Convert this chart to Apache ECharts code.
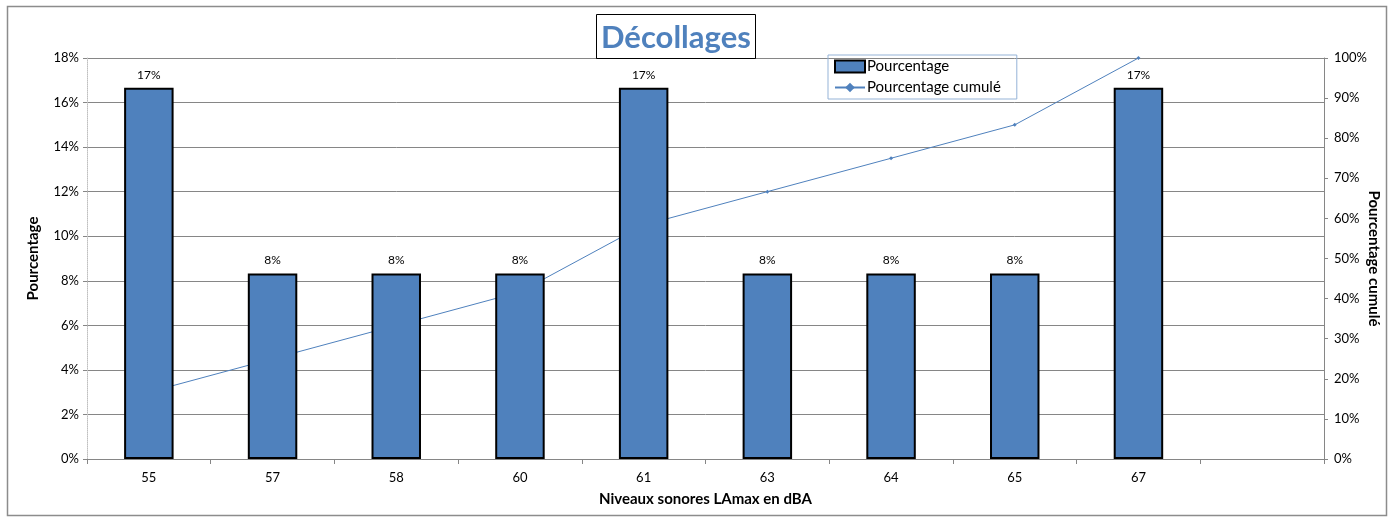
<!DOCTYPE html>
<html><head><meta charset="utf-8">
<script src="https://cdn.jsdelivr.net/npm/echarts@6/dist/echarts.min.js"></script>
<style>html,body{margin:0;padding:0;background:#fff}#c{width:1389px;height:517px}</style>
</head><body><div id="c"></div>
<script>
const categories = ['55','57','58','60','61','63','64','65','67',''];
const pourcentage = [16.67, 8.33, 8.33, 8.33, 16.67, 8.33, 8.33, 8.33, 16.67];
const cumule = [16.67, 25.0, 33.33, 41.67, 58.33, 66.67, 75.0, 83.33, 100.0];
const leftTicks = {min: 0, max: 18, interval: 2};
const rightTicks = {min: 0, max: 100, interval: 10};

const FONT = 'Lato, "Open Sans", sans-serif';
const chart = echarts.init(document.getElementById('c'), null, {renderer: 'canvas'});
chart.setOption({
  animation: false,
  textStyle: {fontFamily: FONT},
  graphic: [{type: 'rect', left: 5, top: 4, shape: {width: 1379, height: 509}, style: {fill: 'none', stroke: '#8c8c8c', lineWidth: 1.5}, silent: true}],
  title: {
    text: 'Décollages', left: 596, top: 14,
    borderColor: '#000', borderWidth: 1, padding: [8, 5, 6, 5],
    textStyle: {fontFamily: FONT, fontSize: 31, fontWeight: 'bold', color: '#4F81BD'}
  },
  legend: {
    left: 828, top: 55, orient: 'vertical', itemGap: 6,
    borderColor: '#95b3d7', borderWidth: 1, padding: [4, 16, 4, 6],
    itemWidth: 30, itemHeight: 12,
    textStyle: {fontFamily: FONT, fontSize: 15, color: '#000', padding: [0, 0, 0, -3]},
    data: [{name: 'Pourcentage', icon: 'rect'}, {name: 'Pourcentage cumulé'}]
  },
  grid: {left: 87, right: 65, top: 58, bottom: 58, containLabel: false, outerBoundsMode: 'none'},
  xAxis: {
    type: 'category', data: categories, boundaryGap: true,
    name: 'Niveaux sonores LAmax en dBA', nameLocation: 'middle', nameGap: 33, nameMoveOverlap: false,
    nameTextStyle: {fontFamily: FONT, fontSize: 15, fontWeight: 'bold', color: '#000'},
    axisLine: {lineStyle: {color: '#868686', width: 1}},
    axisTick: {show: true, interval: 0, length: 5, lineStyle: {color: '#868686'}},
    axisLabel: {interval: 0, fontSize: 13, color: '#000', margin: 12}
  },
  yAxis: [{
    type: 'value', min: leftTicks.min, max: leftTicks.max, interval: leftTicks.interval,
    name: 'Pourcentage', nameLocation: 'middle', nameGap: 46, nameRotate: 90, nameMoveOverlap: false,
    nameTextStyle: {fontFamily: FONT, fontSize: 15, fontWeight: 'bold', color: '#000'},
    axisLine: {show: true, lineStyle: {color: '#bfbfbf', type: 'dotted'}},
    axisTick: {show: true, length: 4, lineStyle: {color: '#868686'}},
    axisLabel: {formatter: v => v + '%', fontSize: 13, color: '#000', margin: 8},
    splitLine: {show: true, lineStyle: {color: '#868686', width: 1}}
  }, {
    type: 'value', position: 'right', min: rightTicks.min, max: rightTicks.max, interval: rightTicks.interval,
    name: 'Pourcentage cumulé', nameLocation: 'middle', nameGap: 42, nameRotate: -90, nameMoveOverlap: false,
    nameTextStyle: {fontFamily: FONT, fontSize: 15, fontWeight: 'bold', color: '#000'},
    axisLine: {show: true, lineStyle: {color: '#868686'}},
    axisTick: {show: true, length: 4, lineStyle: {color: '#868686'}},
    axisLabel: {formatter: v => v + '%', fontSize: 13, color: '#000', margin: 10},
    splitLine: {show: false}
  }],
  series: [{
    name: 'Pourcentage', type: 'bar', yAxisIndex: 0, data: pourcentage, barWidth: '40%', z: 3,
    itemStyle: {color: '#4F81BD', borderColor: '#000', borderWidth: 2},
    label: {show: true, position: 'top', distance: 7, formatter: p => Math.round(p.value) + '%', fontSize: 12, color: '#000'}
  }, {
    name: 'Pourcentage cumulé', type: 'line', yAxisIndex: 1, data: cumule, z: 2,
    symbol: 'diamond', symbolSize: 4, showSymbol: true,
    lineStyle: {color: '#4F81BD', width: 1},
    itemStyle: {color: '#4F81BD'}
  }]
});
</script></body></html>
